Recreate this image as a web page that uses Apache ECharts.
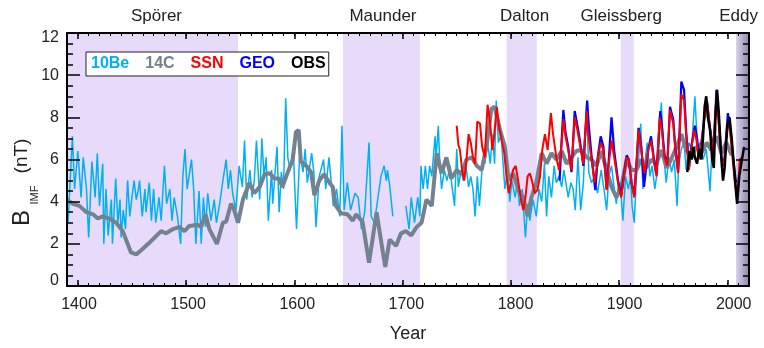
<!DOCTYPE html>
<html>
<head>
<meta charset="utf-8">
<script src="https://cdn.jsdelivr.net/npm/echarts@6/dist/echarts.min.js"></script>
<style>html,body{margin:0;padding:0;background:#fff}#c{width:764px;height:348px}</style>
</head>
<body>
<div id="c"></div>
<script>
// ---------- DATA ----------
const be10Years = [1391,1395,1397,1400,1403,1405,1408,1410,1413,1416,1418,1420,1423,1424,1426,1428,1431,1432,1435,1437,1439,1440,1442,1444,1446,1448,1450,1452,1454,1456,1457,1459.5,1462,1463,1466,1468,1470,1472,1475,1477,1480,1482,1485,1487,1489,1492,1495,1497,1499,1501,1505,1507,1509,1512,1514,1516,1518,1520,1523,1526,1528,1531,1534,1537,1539,1541,1543,1546,1549,1552,1554,1556,1559,1561,1563,1565,1568,1570,1572,1574,1576,1579,1580,1584,1586,1588,1590,1592,1594,1596,1599,1602,1605,1608,1610,1612,1616,1618,1620,1623,1627,1629,1632,1636,1639,1642,1644,1646,1649,1652,1656,1659,1662,1665,1669,1671,1674,1677,1680,1683,1685,1686,1688,1691,1696,1703,1706,1708,1711,1714,1716,1717,1719,1721,1723,1725,1727,1730,1731,1733,1734.5,1736,1738.5,1741,1744,1745,1748,1750,1751.5,1754,1756,1758,1761,1763,1765,1767,1769,1771,1774,1776,1778.5,1781,1783,1785,1786.5,1788.5,1791,1794.5,1797,1799,1801,1804,1806,1808,1810.5,1813.5,1815.5,1817.5,1820.5,1823.5,1826,1828.5,1831,1833,1835,1837.5,1840,1842,1844.5,1847,1849,1853,1855.5,1857.5,1859.5,1862,1864.5,1867,1870,1872,1874.5,1877.5,1880,1883.5,1886,1888.5,1890.5,1893,1895.5,1897.5,1899.5,1902,1903.5,1906,1908.5,1910.5,1912,1914,1916,1918,1920,1922,1923.5,1926,1928.5,1930.5,1933,1935.5,1939,1941.5,1943.5,1946,1948.5,1951,1953.5,1955,1957.5,1960,1962,1964.5,1967,1970,1972.5,1974.5,1977.5,1980.5,1984,1986];
const be10Values = [3.0,7.1,4.6,6.4,4.2,6.1,4.6,2.3,5.9,4.2,6.3,3.8,5.8,2.0,4.6,2.4,4.1,2.0,5.1,3.0,4.1,2.3,3.6,2.7,5.0,3.3,4.2,5.0,4.1,4.6,5.0,3.3,4.6,3.5,4.9,3.1,4.6,3.0,4.2,3.1,5.7,3.9,4.6,3.1,4.2,3.3,2.0,5.2,6.5,4.6,6.0,4.6,2.0,4.5,2.0,4.2,2.8,4.4,3.1,4.1,3.0,3.9,5.0,6.0,4.6,5.5,4.4,3.6,5.7,4.7,6.9,4.1,5.5,4.2,5.0,6.9,4.1,7.0,5.2,6.1,3.1,5.5,3.9,6.6,3.5,5.4,4.6,8.9,6.1,5.5,6.5,2.7,6.3,5.4,6.5,4.9,6.3,5.4,2.8,5.2,6.0,4.6,6.1,3.8,4.6,3.3,7.6,3.6,4.9,3.6,4.4,4.2,2.7,3.5,6.8,3.3,3.0,4.1,5.2,5.7,5.0,5.5,4.8,3.3,null,3.8,2.7,4.2,3.0,4.2,3.3,5.7,4.6,5.7,4.6,5.7,5.2,7.1,6.1,7.6,5.7,4.6,5.5,5.0,5.7,5.0,3.8,6.5,4.7,5.5,5.0,5.9,4.7,5.2,4.6,3.3,5.2,3.8,6.0,5.8,6.8,5.8,7.2,5.8,8.8,6.8,7.2,4.6,5.5,4.0,5.0,4.2,4.9,3.8,4.6,2.3,3.9,3.1,4.1,3.3,4.6,4.0,5.8,3.3,5.2,4.2,5.7,4.9,5.2,4.7,5.5,4.2,4.9,4.6,3.6,6.1,3.6,4.9,8.6,5.4,4.9,5.2,4.4,5.5,4.6,3.6,5.2,5.7,4.6,3.9,4.9,4.2,3.1,5.2,4.6,5.2,3.8,3.0,5.2,6.0,7.7,4.6,5.7,6.8,5.2,5.7,4.6,5.5,8.7,6.0,4.9,6.1,5.4,6.0,3.8,5.7,6.5,6.8,5.5,6.8,6.5,9.0,6.5,6.8,6.0,6.5,4.5,6.8];

const c14Years = [1390,1395.5,1401.5,1408,1414,1418.5,1423,1429,1435.5,1441.5,1446,1449,1454,1458.5,1465,1471,1477,1481.5,1488,1494,1498.5,1503,1511,1514,1518,1521.5,1528.5,1534,1537,1541.5,1544.5,1548,1552.5,1558.5,1563,1568,1572.5,1577,1581.5,1586,1589,1594,1598.5,1601.5,1604,1606,1611,1615.5,1618.5,1623,1627.5,1632.5,1635.5,1638.5,1643,1649,1654,1657,1663,1669,1672.5,1676,1679,1684,1688,1694,1698.5,1703,1708,1713,1717.5,1722,1727,1731.5,1736,1740.5,1745,1750,1754.5,1759,1764,1768.5,1773,1777.5,1782,1785,1790,1794.5,1798,1802,1807,1811.5,1815.5,1819,1823.5,1828.5,1833,1837.5,1842,1847,1851.5,1856,1860.5,1865,1870,1874.5,1879,1883.5,1888.5,1893,1897.5,1902,1907,1911.5,1916,1920.5,1925,1930,1934.5,1939,1944,1948,1953,1957.5,1962,1967,1971,1976,1981,1985,1990,1994.5,1999,2004];
const c14Values = [4.1,3.9,3.8,3.5,3.4,3.2,3.3,3.2,3.0,2.6,2.0,1.6,1.5,1.7,2.0,2.3,2.6,2.5,2.7,2.8,2.6,2.85,2.9,2.8,3.4,2.7,2.0,3.0,3.05,3.9,3.6,3.0,4.1,4.9,4.4,4.7,5.3,5.35,5.1,5.1,4.7,5.4,6.0,7.3,7.4,5.9,5.7,5.4,4.3,5.0,5.3,4.9,4.7,3.8,3.45,3.4,3.1,3.4,3.05,1.1,2.3,3.5,2.5,0.9,2.2,1.9,2.5,2.6,2.4,2.8,3.0,4.1,3.8,6.3,5.35,6.1,5.1,5.5,5.3,6.0,6.1,5.7,5.5,6.6,8.4,8.5,7.4,6.6,5.0,5.35,4.55,4.2,3.3,4.2,4.9,6.3,5.8,6.3,6.0,6.4,5.8,6.1,6.4,6.45,6.1,6.0,5.7,6.4,5.5,4.7,4.2,4.7,6.0,5.5,5.5,6.0,5.6,6.0,5.8,6.45,5.6,6.0,6.6,7.2,6.45,6.1,6.6,6.3,6.8,6.45,7.1,6.3,6.8,6.2];

const ssnYears = [1750,1751.5,1753,1755,1757,1759,1761,1763,1765,1767,1769,1771.5,1773.5,1776,1778.5,1780.5,1783,1784.5,1787,1789,1791.5,1794,1796,1798,1800,1802,1804.5,1807,1809,1811.5,1813.5,1815.5,1817.5,1819.5,1822,1824.5,1827,1829,1831.5,1834,1837,1839,1842,1844.5,1847,1848.5,1850.5,1853,1856,1859,1861.5,1863.5,1867,1870,1871.5,1874.5,1877.5,1880.5,1883,1885.5,1888.5,1890.5,1893,1895.5,1899,1902,1904.5,1907,1909,1911.5,1914,1916.5,1918,1920.5,1923.5,1927,1929.5,1932.5,1934.5,1937.5,1939.5,1942,1944.5,1947,1950,1952,1954.5,1957.5,1960,1962,1964.5,1967,1969.5,1971.5,1973.5,1976.5,1979,1981.5,1984,1987,1990,1992,1994.5,1997,1999,2001.5,2003.5,2007,2009,2011.5,2013.5];
const ssnValues = [7.6,6.7,6.45,5.5,5.0,6.0,7.2,6.8,6.1,5.8,7.8,7.7,6.6,6.1,8.6,7.9,6.45,7.1,8.5,7.6,6.9,6.3,5.2,4.4,4.9,5.5,5.7,4.9,4.2,3.6,4.2,5.2,5.35,5.0,4.4,4.55,5.2,6.45,7.2,6.45,8.2,7.2,6.1,5.5,6.8,7.9,7.1,6.45,5.5,8.0,7.4,6.8,5.8,8.3,7.2,6.0,4.9,6.1,6.8,6.45,4.55,5.8,6.9,6.1,4.9,4.2,5.2,6.1,6.0,4.9,4.2,6.1,7.4,6.45,5.35,6.45,6.9,5.8,5.2,8.0,7.4,6.1,5.7,8.35,7.7,6.45,5.35,9.1,8.8,7.1,5.5,6.6,7.4,6.9,6.0,6.9,8.0,8.7,7.4,6.3,9.0,7.7,6.0,5.7,7.1,7.9,6.8,4.9,4.1,6.0,6.1];

const geoYears = [1845,1847,1848.5,1850.5,1853,1856,1859,1861.5,1863.5,1867,1870.5,1872,1874.5,1878,1880.5,1883,1885.5,1888.5,1890.5,1893,1895.5,1899,1902,1904.5,1907,1909,1911.5,1914,1916.5,1918,1920.5,1923,1927,1929.5,1932.5,1934.5,1938,1939.5,1942,1944.5,1947,1950,1952,1954.5,1957.5,1960,1962,1964.5,1967,1970,1972,1974,1976.5,1979,1981,1984,1987,1990,1992,1994.5,1997,2000.5,2002.5,2005,2008];
const geoValues = [5.0,7.0,8.35,7.3,6.6,5.4,8.3,7.6,7.0,5.7,8.8,7.6,6.2,4.55,6.2,7.1,6.6,4.6,6.0,8.0,6.4,5.0,4.3,5.3,6.2,6.0,4.9,4.3,6.2,7.5,6.6,4.7,6.5,7.1,5.9,5.3,8.3,7.6,6.2,5.8,8.5,7.9,6.5,5.4,9.7,9.3,7.3,5.6,6.7,7.6,7.0,6.1,7.0,8.1,8.8,7.5,6.4,9.3,7.9,6.1,5.8,8.2,7.6,6.2,4.9];

const obsYears = [1963,1965,1967,1968.5,1970,1972,1974,1976,1977.5,1979,1980.5,1982,1984,1986,1987.5,1989,1990.5,1992,1994.5,1996,1997.5,2000,2002,2004,2007,2009,2011,2013.5,2015.5];
const obsValues = [5.4,6.4,6.0,6.6,6.1,5.8,6.5,6.0,7.0,8.5,9.0,8.0,7.4,6.0,5.6,8.0,9.3,8.3,6.0,5.0,5.6,7.6,8.0,7.0,5.1,3.9,5.2,6.0,6.6];

const majorYears = [1400,1500,1600,1700,1800,1900,2000];
const minimaNames = ['Spörer','Maunder','Dalton','Gleissberg','Eddy'];
const minimaStart = [1390,1645,1796,1901.5,2008];
const minimaEnd = [1548,1716,1824,1913.5,2020];

// ---------- CHART ----------
const pairs = (xs, ys) => xs.map((x, i) => [x, ys[i]]);
const FONT = 'Liberation Sans';
const chart = echarts.init(document.getElementById('c'), null, {renderer: 'canvas'});

const bandColor = '#E7DAFB';
const eddyGrad = new echarts.graphic.LinearGradient(0, 0, 1, 0, [
  {offset: 0, color: '#DCD2EE'}, {offset: 1, color: '#8F86A8'}
]);
const labelShift = [4, 1.5, 3, -6, -4];
const bands = minimaNames.map((n, i) => [
  {xAxis: minimaStart[i], name: n, label: {offset: [labelShift[i], 0]},
   itemStyle: {color: i === 4 ? eddyGrad : bandColor, opacity: 1}},
  {xAxis: minimaEnd[i]}
]);

const tickLine = w => ({color: '#000', width: w});
const xBase = {type: 'value', min: 1390, max: 2020, splitLine: {show: false}, z: 10};
const yBase = {type: 'value', min: 0, max: 12, interval: 2, splitLine: {show: false}, z: 10};

const option = {
  animation: false,
  backgroundColor: '#fff',
  grid: {left: 67, right: 15, top: 33, bottom: 62, containLabel: false},
  legend: {
    left: 86, top: 52,
    orient: 'horizontal',
    itemWidth: 0, itemHeight: 0, itemGap: 11,
    padding: [4, 3, 4, 0],
    borderColor: '#222', borderWidth: 1,
    backgroundColor: '#fff',
    selectedMode: false,
    textStyle: {fontFamily: FONT, fontSize: 16, fontWeight: 'bold'},
    data: [
      {name: '10Be', icon: 'rect', textStyle: {color: '#00B0F0'}},
      {name: '14C', icon: 'rect', textStyle: {color: '#74818F'}},
      {name: 'SSN', icon: 'rect', textStyle: {color: '#FF0000'}},
      {name: 'GEO', icon: 'rect', textStyle: {color: '#0000FF'}},
      {name: 'OBS', icon: 'rect', textStyle: {color: '#000000'}}
    ]
  },
  xAxis: [
    Object.assign({}, xBase, {
      position: 'bottom', interval: 10,
      axisLine: {show: true, onZero: false, lineStyle: tickLine(2)},
      axisTick: {show: true, inside: true, length: 3, lineStyle: tickLine(1)},
      axisLabel: {show: false},
      name: 'Year', nameLocation: 'middle', nameGap: 39,
      nameTextStyle: {fontFamily: FONT, fontSize: 18, color: '#222'}
    }),
    Object.assign({}, xBase, {
      position: 'bottom',
      axisLine: {show: false, onZero: false},
      axisTick: {show: true, inside: true, length: 6, customValues: majorYears, lineStyle: tickLine(1.5)},
      axisLabel: {show: false}
    }),
    Object.assign({}, xBase, {
      position: 'top', interval: 10,
      axisLine: {show: true, onZero: false, lineStyle: tickLine(2)},
      axisTick: {show: true, inside: true, length: 3, lineStyle: tickLine(1)},
      axisLabel: {show: false}
    }),
    Object.assign({}, xBase, {
      position: 'top',
      axisLine: {show: false, onZero: false},
      axisTick: {show: true, inside: true, length: 6, customValues: majorYears, lineStyle: tickLine(1.5)},
      axisLabel: {show: false}
    }),
    {
      // label-only axis: the reference's year labels sit on a slightly wider spacing than its ticks
      type: 'value', position: 'bottom', min: 1389, max: 2014, z: 10,
      splitLine: {show: false},
      axisLine: {show: false, onZero: false},
      axisTick: {show: false},
      axisLabel: {show: true, customValues: majorYears, margin: 11, fontFamily: FONT, fontSize: 16, color: '#222',
        formatter: v => String(Math.round(v))}
    }
  ],
  yAxis: [
    Object.assign({}, yBase, {
      position: 'left',
      axisLine: {show: true, onZero: false, lineStyle: tickLine(2)},
      axisTick: {show: true, inside: true, length: 13, lineStyle: tickLine(1.5)},
      minorTick: {show: true, splitNumber: 4, length: 6, lineStyle: tickLine(1.5)},
      axisLabel: {show: true, margin: 8, fontFamily: FONT, fontSize: 16, color: '#222', lineHeight: 10,
        verticalAlignMinLabel: 'bottom', verticalAlignMaxLabel: 'top'}
    }),
    Object.assign({}, yBase, {
      position: 'right',
      axisLine: {show: true, onZero: false, lineStyle: tickLine(2)},
      axisTick: {show: true, inside: true, length: 13, lineStyle: tickLine(1.5)},
      minorTick: {show: true, splitNumber: 4, length: 6, lineStyle: tickLine(1.5)},
      axisLabel: {show: false}
    })
  ],
  graphic: [
    {type: 'text', x: 22, y: 218, rotation: Math.PI / 2,
      style: {text: 'B', fontFamily: FONT, fontSize: 24, fill: '#222', align: 'center', verticalAlign: 'middle'}},
    {type: 'text', x: 35, y: 195, rotation: Math.PI / 2,
      style: {text: 'IMF', fontFamily: FONT, fontSize: 11, fill: '#222', align: 'center', verticalAlign: 'middle'}},
    {type: 'text', x: 22, y: 156, rotation: Math.PI / 2,
      style: {text: '(nT)', fontFamily: FONT, fontSize: 19, fill: '#222', align: 'center', verticalAlign: 'middle'}}
  ],
  series: [
    {
      name: '10Be', type: 'line', xAxisIndex: 0, yAxisIndex: 0,
      data: pairs(be10Years, be10Values), showSymbol: false, symbol: 'none',
      connectNulls: false,
      lineStyle: {color: '#00B0F0', width: 1.5}, itemStyle: {color: '#00B0F0'},
      markArea: {
        silent: true,
        label: {show: true, position: 'top', distance: 8, fontFamily: FONT, fontSize: 17, color: '#222'},
        data: bands
      }
    },
    {
      name: '14C', type: 'line', data: pairs(c14Years, c14Values), showSymbol: false, symbol: 'none',
      lineStyle: {color: '#74818F', width: 4}, itemStyle: {color: '#74818F'}
    },
    {
      name: 'GEO', type: 'line', data: pairs(geoYears, geoValues), showSymbol: false, symbol: 'none',
      lineStyle: {color: '#0000FF', width: 2.2}, itemStyle: {color: '#0000FF'}
    },
    {
      name: 'SSN', type: 'line', data: pairs(ssnYears, ssnValues), showSymbol: false, symbol: 'none',
      lineStyle: {color: '#FF0000', width: 2}, itemStyle: {color: '#FF0000'}
    },
    {
      name: 'OBS', type: 'line', data: pairs(obsYears, obsValues), showSymbol: false, symbol: 'none',
      lineStyle: {color: '#000000', width: 2.5}, itemStyle: {color: '#000'}
    }
  ]
};
chart.setOption(option);
</script>
</body>
</html>
